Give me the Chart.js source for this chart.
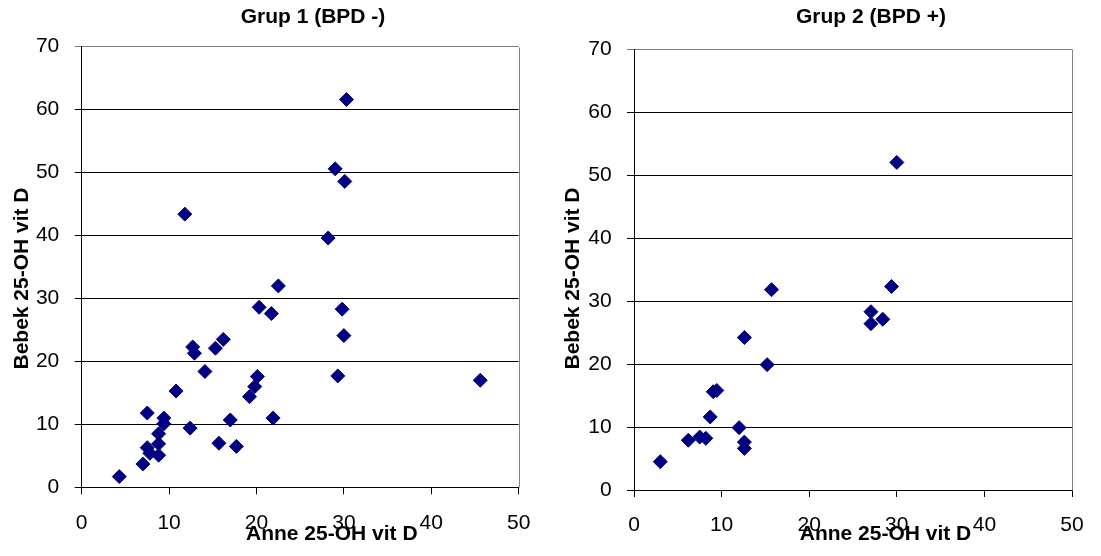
<!DOCTYPE html>
<html>
<head>
<meta charset="utf-8">
<script src="https://cdn.jsdelivr.net/npm/chart.js@4"></script>
<style>
  html, body { margin: 0; padding: 0; background: #fff; }
  #wrap { position: relative; width: 1101px; height: 556px; overflow: hidden; }
  canvas { position: absolute; top: 0; }
  #g1 { left: 0; }
  #g2 { left: 550px; }
</style>
</head>
<body>
<div id="wrap">
  <canvas id="g1" width="550" height="556"></canvas>
  <canvas id="g2" width="551" height="556"></canvas>
</div>
<script>
// Serum 25-OH vitamin D: mother (Anne) vs. baby (Bebek), group 1 = BPD negative
const group1Mother = [4.3, 7.0, 7.5, 7.5, 7.8, 8.8, 8.8, 8.8, 9.4, 9.4, 10.8, 12.4,
  12.7, 12.9, 14.1, 15.3, 16.2, 15.7, 17.0, 17.7, 19.2, 19.8, 20.1, 20.3, 21.7, 21.9,
  29.3, 29.8, 30.0, 30.3, 29.0, 30.1, 11.8, 28.2, 22.5, 45.6];
const group1Baby = [1.7, 3.7, 11.8, 6.3, 5.4, 6.9, 5.1, 8.5, 11.0, 10.1, 15.3, 9.4,
  22.3, 21.3, 18.4, 22.1, 23.5, 7.0, 10.7, 6.5, 14.4, 16.0, 17.6, 28.6, 27.6, 11.0,
  17.7, 28.3, 24.1, 61.6, 50.6, 48.6, 43.4, 39.6, 32.0, 17.0];

// Group 2 = BPD positive
const group2Mother = [3.0, 6.2, 7.5, 8.2, 8.7, 9.05, 9.45, 12.0, 12.6, 12.6, 12.6,
  15.2, 15.7, 27.05, 27.05, 28.4, 29.4, 30.0];
const group2Baby = [4.5, 7.9, 8.4, 8.2, 11.6, 15.6, 15.8, 9.9, 7.6, 6.6, 24.2,
  19.9, 31.8, 28.3, 26.4, 27.1, 32.3, 52.0];

const xTickValues = [0, 10, 20, 30, 40, 50];
const yTickValues = [0, 10, 20, 30, 40, 50, 60, 70];

const panelTitles = ['Grup 1 (BPD -)', 'Grup 2 (BPD +)'];
const xAxisTitle = 'Anne 25-OH vit D';
const yAxisTitle = 'Bebek 25-OH vit D';

const FONT = '"Liberation Sans", Arial, Helvetica, sans-serif';
const MARK = '#000080';
const FRAME_GREY = '#808080';

// Grey frame on the right of the plot area, plus the panel title and axis titles
const panelDecor = {
  id: 'panelDecor',
  beforeDatasetsDraw(chart) {
    const { ctx, chartArea: { top, right, bottom } } = chart;
    ctx.save();
    ctx.strokeStyle = FRAME_GREY;
    ctx.lineWidth = 1;
    const rx = Math.round(right) + 0.5;
    ctx.beginPath();
    ctx.moveTo(rx, Math.round(top) + 0.5);
    ctx.lineTo(rx, Math.round(bottom) + 0.5);
    ctx.stroke();
    ctx.restore();
  },
  afterDraw(chart, args, o) {
    const ctx = chart.ctx;
    ctx.save();
    ctx.fillStyle = '#000';
    ctx.font = 'bold 21px ' + FONT;
    ctx.textAlign = 'center';
    ctx.textBaseline = 'middle';
    ctx.fillText(o.title, o.titleX, o.titleY);
    ctx.fillText(o.xTitle, o.xTitleX, o.xTitleY);
    ctx.translate(o.yTitleX, o.yTitleY);
    ctx.rotate(-Math.PI / 2);
    ctx.fillText(o.yTitle, 0, 0);
    ctx.restore();
  }
};

function makePanel(canvasId, xs, ys, title, g) {
  const points = xs.map((x, i) => ({ x, y: ys[i] }));
  const gridColour = c => (c.tick && c.tick.value === 70 ? FRAME_GREY : '#000');
  return new Chart(document.getElementById(canvasId), {
    type: 'scatter',
    data: {
      datasets: [{
        data: points,
        pointStyle: 'rectRot',
        pointRadius: 7,
        pointHoverRadius: 7,
        pointBorderWidth: 1,
        backgroundColor: MARK,
        borderColor: MARK
      }]
    },
    options: {
      responsive: false,
      animation: false,
      devicePixelRatio: 1,
      events: [],
      layout: { autoPadding: false, padding: { left: 0, top: g.top, right: g.right, bottom: 0 } },
      plugins: {
        legend: { display: false },
        tooltip: { enabled: false },
        panelDecor: {
          title: title, titleX: g.titleX, titleY: 17,
          xTitle: xAxisTitle, xTitleX: g.xTitleX, xTitleY: 534,
          yTitle: yAxisTitle, yTitleX: g.yTitleX, yTitleY: 278.5
        }
      },
      scales: {
        x: {
          type: 'linear',
          min: xTickValues[0],
          max: xTickValues[xTickValues.length - 1],
          afterBuildTicks: s => { s.ticks = xTickValues.map(v => ({ value: v })); },
          afterFit: s => { s.height = 556 - g.bottom; },
          ticks: { padding: 16, color: '#000', font: { family: FONT, size: 21 }, maxRotation: 0, autoSkip: false },
          grid: { drawOnChartArea: false, drawTicks: true, tickLength: 7, tickColor: '#000', lineWidth: 1 },
          border: { display: true, color: '#000', width: 1 }
        },
        y: {
          type: 'linear',
          min: yTickValues[0],
          max: yTickValues[yTickValues.length - 1],
          afterBuildTicks: s => { s.ticks = yTickValues.map(v => ({ value: v })); },
          afterFit: s => { s.width = g.left; },
          ticks: { padding: 15.4, color: '#000', font: { family: FONT, size: 21 } },
          grid: { drawOnChartArea: true, drawTicks: true, tickLength: 7, color: gridColour, tickColor: gridColour, lineWidth: 1 },
          border: { display: true, color: '#000', width: 1 }
        }
      }
    },
    plugins: [panelDecor]
  });
}

makePanel('g1', group1Mother, group1Baby, panelTitles[0],
  { left: 81.7, top: 46.7, right: 550 - 518.7, bottom: 487.3, titleX: 313, xTitleX: 331.8, yTitleX: 22.7 });
makePanel('g2', group2Mother, group2Baby, panelTitles[1],
  { left: 84, top: 49, right: 551 - 522, bottom: 490, titleX: 321, xTitleX: 335.5, yTitleX: 23.7 });
</script>
</body>
</html>
